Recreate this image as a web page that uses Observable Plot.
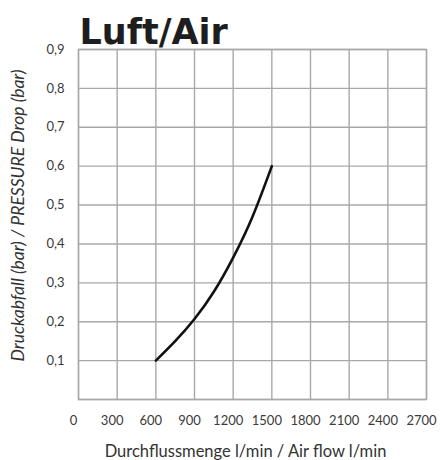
<!DOCTYPE html>
<html>
<head>
<meta charset="utf-8">
<script src="https://cdn.jsdelivr.net/npm/d3@7"></script>
<script src="https://cdn.jsdelivr.net/npm/@observablehq/plot@0.6"></script>
<style>
  html, body { margin: 0; padding: 0; background: #fff; }
</style>
</head>
<body>
<div id="chart"></div>
<script>
const title = "Luft/Air";
const xLabel = "Durchflussmenge l/min / Air flow l/min";
const yLabel = "Druckabfall (bar) / PRESSURE Drop (bar)";
const xTicks = [0, 300, 600, 900, 1200, 1500, 1800, 2100, 2400, 2700];
const yTicks = [0, 0.1, 0.2, 0.3, 0.4, 0.5, 0.6, 0.7, 0.8, 0.9];
const flow = [600, 750, 900, 1050, 1200, 1350, 1500];
const pressure = [0.10, 0.150, 0.207, 0.277, 0.365, 0.470, 0.60];

const curve = flow.map((f, i) => ({flow: f, pressure: pressure[i]}));
const fmt = v => v === 0 ? "" : d3.format(".1f")(v).replace(".", ",");
const font = "Lato, 'Open Sans', sans-serif";
const grid = "#a8a8a8";

const plot = Plot.plot({
  width: 440,
  height: 460,
  marginLeft: 78,
  marginRight: 14,
  marginTop: 49,
  marginBottom: 61,
  style: {fontFamily: font, color: "#3a3a3a", background: "#fff"},
  x: {domain: [0, 2700]},
  y: {domain: [0, 0.9]},
  marks: [
    Plot.gridX(xTicks, {stroke: grid, strokeOpacity: 1, strokeWidth: 1.4}),
    Plot.gridY(yTicks, {stroke: grid, strokeOpacity: 1, strokeWidth: 1.4}),
    Plot.frame({stroke: grid, strokeWidth: 1.4}),
    Plot.axisX(xTicks, {tickSize: 0, tickPadding: 16, fontSize: 13, dx: -5, label: null, tickFormat: d => String(d)}),
    Plot.axisY(yTicks, {tickSize: 0, tickPadding: 14, fontSize: 13, label: null, tickFormat: fmt}),
    Plot.line(curve, {x: "flow", y: "pressure", curve: "natural", stroke: "#111", strokeWidth: 2.6}),
    Plot.text([title], {frameAnchor: "top-left", textAnchor: "start", lineAnchor: "bottom", dx: 1, dy: -6, fontSize: 35, fontWeight: "bold", fontFamily: "'DejaVu Sans', sans-serif", fill: "#1e1e1e"}),
    Plot.text([xLabel], {frameAnchor: "bottom", lineAnchor: "bottom", dx: -7, dy: 57, fontSize: 16.5, fill: "#333"}),
    Plot.text([yLabel], {frameAnchor: "left", textAnchor: "middle", rotate: -90, dx: -60, dy: -9, fontSize: 17.5, fontStyle: "italic", fill: "#333"})
  ]
});
document.getElementById("chart").appendChild(plot);
</script>
</body>
</html>
